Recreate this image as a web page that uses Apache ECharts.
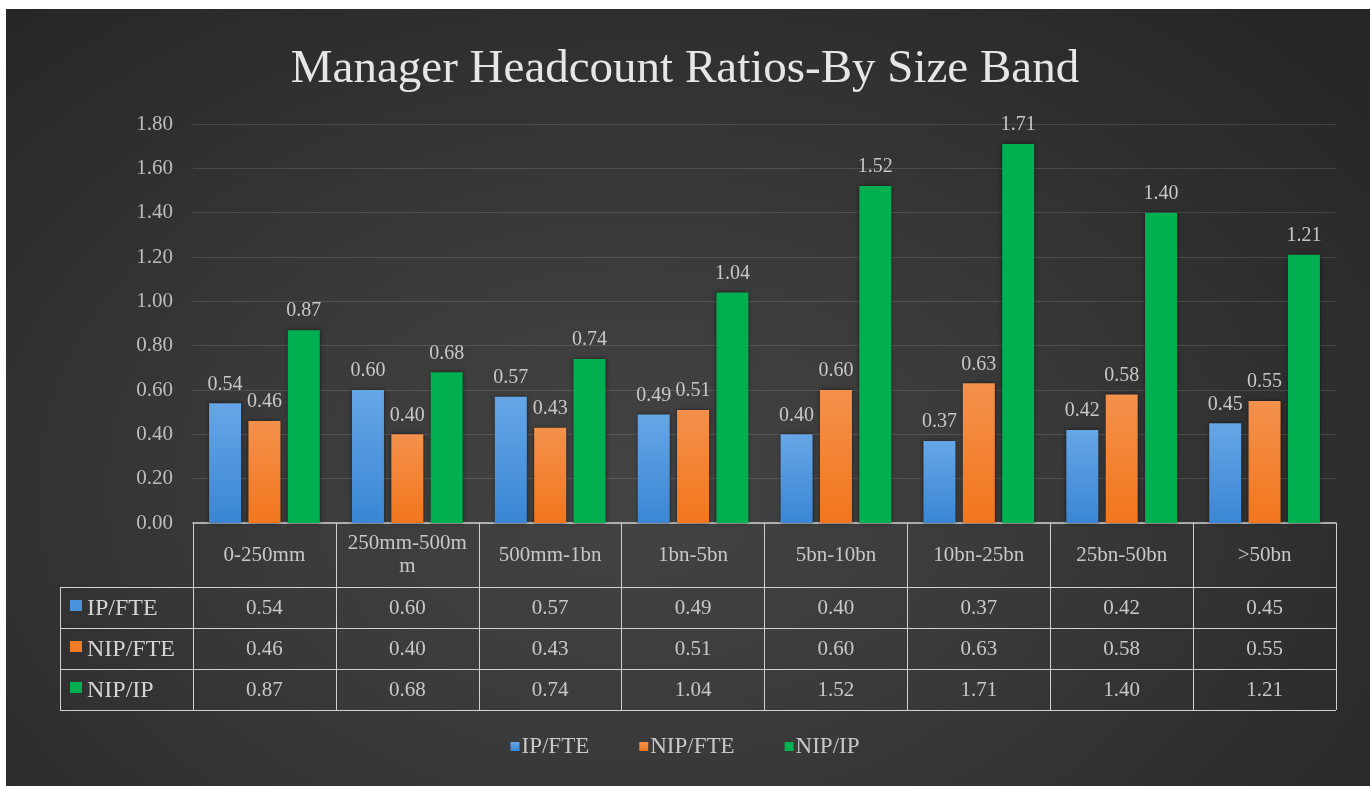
<!DOCTYPE html>
<html>
<head>
<meta charset="utf-8">
<title>Manager Headcount Ratios-By Size Band</title>
<script src="https://cdn.jsdelivr.net/npm/echarts@6/dist/echarts.min.js"></script>
<style>
  html, body { margin: 0; padding: 0; background: #fff; width: 1370px; height: 786px; overflow: hidden; }
  .panel {
    position: absolute; left: 6px; top: 9px; right: 0; bottom: 0;
    background: radial-gradient(ellipse 70% 85% at 46% 62%, #444 0%, #3a3a3a 40%, #2c2c2c 80%, #262626 100%);
  }
  #chart { position: absolute; left: 0; top: 0; width: 1370px; height: 786px; }
</style>
</head>
<body>
<div class="panel"></div>
<div id="chart"></div>
<script>
// size bands (x categories)
const categories = ['0-250mm', '250mm-500mm', '500mm-1bn', '1bn-5bn', '5bn-10bn', '10bn-25bn', '25bn-50bn', '>50bn']
// series values
const ipFte = [0.54, 0.60, 0.57, 0.49, 0.40, 0.37, 0.42, 0.45]
const nipFte = [0.46, 0.40, 0.43, 0.51, 0.60, 0.63, 0.58, 0.55]
const nipIp = [0.87, 0.68, 0.74, 1.04, 1.52, 1.71, 1.40, 1.21]
const seriesNames = ['IP/FTE', 'NIP/FTE', 'NIP/IP']
const seriesColors = ['#4a93dc', '#f27b25', '#00b050']
const yMin = 0
const yMax = 1.8
const yStep = 0.2

const FONT = '"Liberation Serif", "DejaVu Serif", serif'
const TEXT = '#c8c8c8'
const LINE = '#cfcfcf'
const HEADER_H = 64
const ROW_H = 41
const TABLE_LEFT = 60

const chart = echarts.init(document.getElementById('chart'), null, { renderer: 'canvas' })

const barGradient = (top, bottom) => new echarts.graphic.LinearGradient(0, 0, 0, 1, [
  { offset: 0, color: top },
  { offset: 1, color: bottom }
])

const makeSeries = (name, values, color) => ({
  name,
  type: 'bar',
  data: values,
  barWidth: 32,
  barGap: '23%',
  itemStyle: {
    color,
    shadowColor: 'rgba(0,0,0,0.55)',
    shadowBlur: 4
  },
  label: {
    show: true,
    position: 'top',
    distance: 9,
    color: TEXT,
    fontFamily: FONT,
    fontSize: 20,
    formatter: (p) => p.value.toFixed(2)
  }
})

const option = {
  backgroundColor: 'transparent',
  animation: false,
  color: seriesColors,
  title: {
    text: 'Manager Headcount Ratios-By Size Band',
    left: 'center',
    top: 41,
    textStyle: { color: '#e6e6e6', fontFamily: FONT, fontSize: 47, fontWeight: 'normal' }
  },
  legend: {
    data: seriesNames,
    bottom: 23,
    left: 'center',
    icon: 'rect',
    itemWidth: 9,
    itemHeight: 9,
    itemGap: 50,
    textStyle: { color: TEXT, fontFamily: FONT, fontSize: 23, padding: [0, 0, 0, -3] }
  },
  grid: { left: 193, right: 34, top: 124, bottom: 263 },
  xAxis: {
    type: 'category',
    data: categories,
    axisLine: { lineStyle: { color: LINE, width: 1.5 } },
    axisTick: { show: true, length: HEADER_H + ROW_H * 3, lineStyle: { color: LINE, width: 1 } },
    axisLabel: {
      color: TEXT,
      fontFamily: FONT,
      fontSize: 21,
      margin: HEADER_H / 2,
      verticalAlign: 'middle',
      width: 126,
      overflow: 'break',
      lineHeight: 23,
      interval: 0
    }
  },
  yAxis: {
    type: 'value',
    min: yMin,
    max: yMax,
    interval: yStep,
    axisLine: { show: false },
    axisTick: { show: false },
    axisLabel: {
      color: '#bdbdbd',
      fontFamily: FONT,
      fontSize: 21,
      margin: 20,
      formatter: (v) => v.toFixed(2)
    },
    splitLine: { lineStyle: { color: 'rgba(255,255,255,0.12)', width: 1 } }
  },
  series: [
    makeSeries(seriesNames[0], ipFte, barGradient('#66a6e6', '#3a86d4')),
    makeSeries(seriesNames[1], nipFte, barGradient('#f4914c', '#f2761c')),
    makeSeries(seriesNames[2], nipIp, seriesColors[2])
  ]
}

chart.setOption(option)

// data table under the axis, laid out from the category axis scale
const drawTable = () => {
  const c0 = chart.convertToPixel({ xAxisIndex: 0 }, 0)
  const c1 = chart.convertToPixel({ xAxisIndex: 0 }, 1)
  const band = c1 - c0
  const right = c0 - band / 2 + band * categories.length
  const axisY = chart.convertToPixel({ yAxisIndex: 0 }, 0)
  const firstRow = axisY + HEADER_H
  const rows = [ipFte, nipFte, nipIp]
  const elements = []

  // horizontal rules
  for (let r = 0; r <= rows.length; r++) {
    const y = Math.round(firstRow + r * ROW_H) + 0.5
    elements.push({
      type: 'line',
      shape: { x1: TABLE_LEFT, y1: y, x2: right, y2: y },
      style: { stroke: LINE, lineWidth: 1 }
    })
  }
  // left border of row header column
  elements.push({
    type: 'line',
    shape: { x1: TABLE_LEFT + 0.5, y1: firstRow, x2: TABLE_LEFT + 0.5, y2: firstRow + ROW_H * rows.length },
    style: { stroke: LINE, lineWidth: 1 }
  })

  rows.forEach((values, r) => {
    const top = firstRow + r * ROW_H
    const mid = top + ROW_H / 2
    // legend key + name
    elements.push({
      type: 'rect',
      shape: { x: TABLE_LEFT + 10, y: top + 13, width: 12, height: 11 },
      style: { fill: seriesColors[r] }
    })
    elements.push({
      type: 'text',
      x: TABLE_LEFT + 27,
      y: mid + 1,
      style: {
        text: seriesNames[r], fill: '#d4d4d4', font: '24px ' + FONT,
        textAlign: 'left', textVerticalAlign: 'middle'
      }
    })
    values.forEach((v, i) => {
      elements.push({
        type: 'text',
        x: chart.convertToPixel({ xAxisIndex: 0 }, i),
        y: mid + 1,
        style: {
          text: v.toFixed(2), fill: TEXT, font: '21px ' + FONT,
          textAlign: 'center', textVerticalAlign: 'middle'
        }
      })
    })
  })

  chart.setOption({ graphic: { elements } })
}

drawTable()
</script>
</body>
</html>
